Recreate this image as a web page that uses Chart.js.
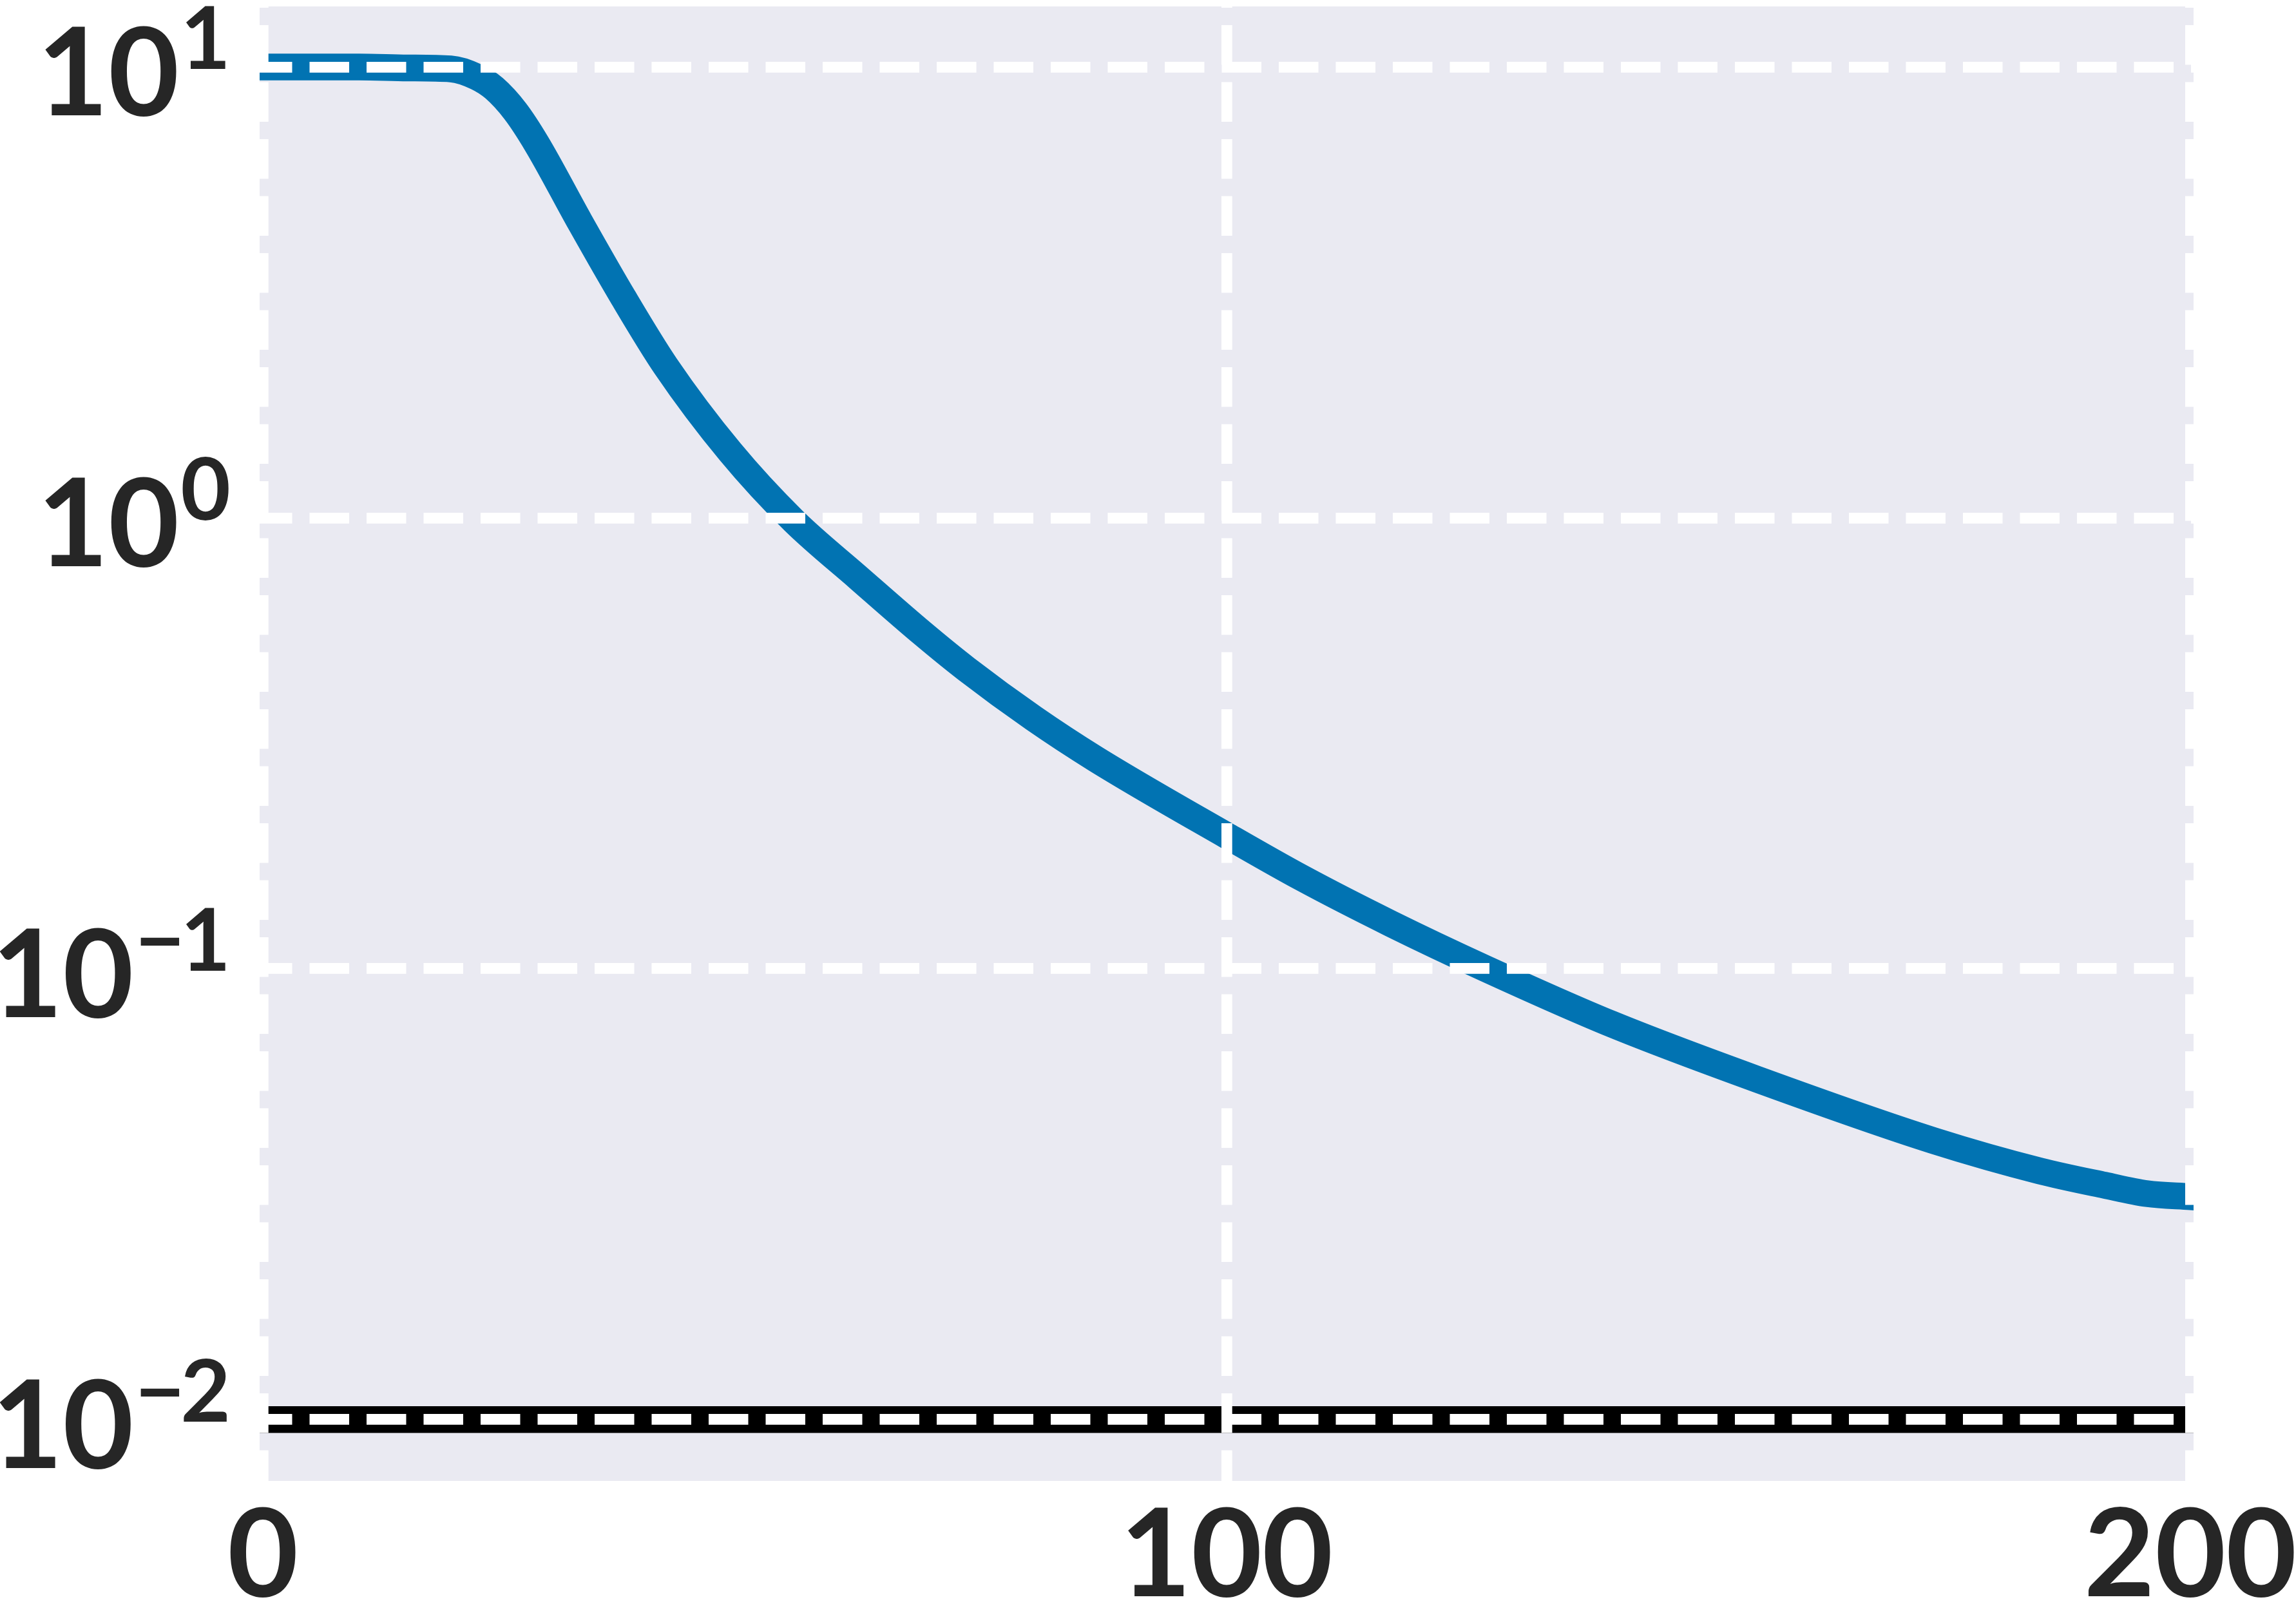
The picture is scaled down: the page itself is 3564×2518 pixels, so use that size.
<!DOCTYPE html>
<html>
<head>
<meta charset="utf-8">
<script src="https://cdn.jsdelivr.net/npm/chart.js@4.4.1/dist/chart.umd.min.js"></script>
<style>
  html, body { margin: 0; padding: 0; background: #fff; }
  #wrap { width: 3564px; height: 2518px; position: relative; }
</style>
</head>
<body>
<div id="wrap"><canvas id="lossChart"></canvas></div>
<script>
// values
const steps = [0, 5, 10, 15, 19.5, 22.2, 24, 26.2, 28.4, 32.9, 37.4, 41.8, 48.5, 55.1, 61.8, 68.5, 73, 80, 86.4, 99.9, 107.8, 117, 126.9, 140, 155, 173.3, 184.4, 191.1, 195.5, 200]
const loss = [10, 10, 10, 9.95, 9.9, 9.5, 8.97, 7.97, 6.76, 4.53, 3.08, 2.17, 1.4, 0.984, 0.736, 0.553, 0.462, 0.359, 0.292, 0.198, 0.159, 0.126, 0.1, 0.0753, 0.0569, 0.0416, 0.0356, 0.0331, 0.0317, 0.0312]
const targetLevel = 0.01

const xTicks = [0, 100, 200]
const yTickExps = [1, 0, -1, -2]

const X_MIN = -0.334
const X_MAX = 200.334
const Y_MIN = 0.00731
const Y_MAX = 13.62

const TEXT_COLOR = '#262626'
const BASE_SIZE = 190
const SUP_SIZE = 134
const GRID_WIDTH = 16.7
const GRID_DASH = [61.5, 27]

const plotBackground = {
  id: 'plotBackground',
  beforeDraw(chart) {
    const { ctx, chartArea: a } = chart
    ctx.save()
    ctx.fillStyle = '#EAEAF2'
    ctx.fillRect(a.left, a.top, a.right - a.left, a.bottom - a.top)
    ctx.restore()
  },
}

// tick labels, with the power-of-ten exponent raised like mathtext
const tickText = {
  id: 'tickText',
  afterDraw(chart) {
    const { ctx, chartArea: a } = chart
    const xs = chart.scales.x
    const ys = chart.scales.y
    ctx.save()
    ctx.fillStyle = TEXT_COLOR
    ctx.textBaseline = 'alphabetic'

    ctx.font = `bold ${BASE_SIZE}px Lato`
    ctx.textAlign = 'center'
    xTicks.forEach((v) => {
      ctx.fillText(String(v), xs.getPixelForValue(v), a.bottom + 179)
    })

    const right = a.left - 45
    ctx.textAlign = 'right'
    yTickExps.forEach((e) => {
      const py = ys.getPixelForValue(Math.pow(10, e))
      const digit = String(Math.abs(e))
      ctx.font = `bold ${SUP_SIZE}px Lato`
      let supLeft = right - ctx.measureText(digit).width
      ctx.fillText(digit, right, py + 3)
      if (e < 0) {
        // minus sign sits a little tighter to the digit
        ctx.fillText('\u2212', supLeft + 7, py + 3)
        supLeft = supLeft + 7 - ctx.measureText('\u2212').width
      }
      ctx.font = `bold ${BASE_SIZE}px Lato`
      ctx.fillText('10', supLeft - 2, py + 75)
    })
    ctx.restore()
  },
}

function gridOpts() {
  return {
    color: '#ffffff',
    lineWidth: GRID_WIDTH,
    drawTicks: false,
    z: 1,
  }
}

const canvas = document.getElementById('lossChart')
new Chart(canvas.getContext('2d'), {
  type: 'line',
  data: {
    datasets: [
      {
        label: 'target',
        data: [{ x: X_MIN, y: targetLevel }, { x: X_MAX, y: targetLevel }],
        borderColor: '#000000',
        borderWidth: 41.5,
        pointRadius: 0,
        clip: 0,
      },
      {
        label: 'loss',
        data: steps.map((s, i) => ({ x: s, y: loss[i] })),
        borderColor: '#0173B2',
        borderWidth: 41.5,
        borderCapStyle: 'square',
        borderJoinStyle: 'round',
        cubicInterpolationMode: 'monotone',
        pointRadius: 0,
        clip: 0,
      },
    ],
  },
  options: {
    responsive: true,
    maintainAspectRatio: false,
    animation: false,
    devicePixelRatio: 1,
    layout: { padding: { left: 403, right: 159, top: 10, bottom: 219 } },
    plugins: {
      legend: { display: false },
      tooltip: { enabled: false },
    },
    scales: {
      x: {
        type: 'linear',
        min: X_MIN,
        max: X_MAX,
        afterBuildTicks: (s) => { s.ticks = xTicks.map((v) => ({ value: v })) },
        afterFit: (s) => { s.height = 0 },
        ticks: { display: false },
        border: { display: false, dash: GRID_DASH, dashOffset: 59.4 },
        grid: gridOpts(),
      },
      y: {
        type: 'logarithmic',
        min: Y_MIN,
        max: Y_MAX,
        afterBuildTicks: (s) => { s.ticks = yTickExps.map((e) => ({ value: Math.pow(10, e) })) },
        afterFit: (s) => { s.width = 0 },
        ticks: { display: false },
        border: { display: false, dash: GRID_DASH, dashOffset: 11 },
        grid: gridOpts(),
      },
    },
  },
  plugins: [plotBackground, tickText],
})
</script>
</body>
</html>
